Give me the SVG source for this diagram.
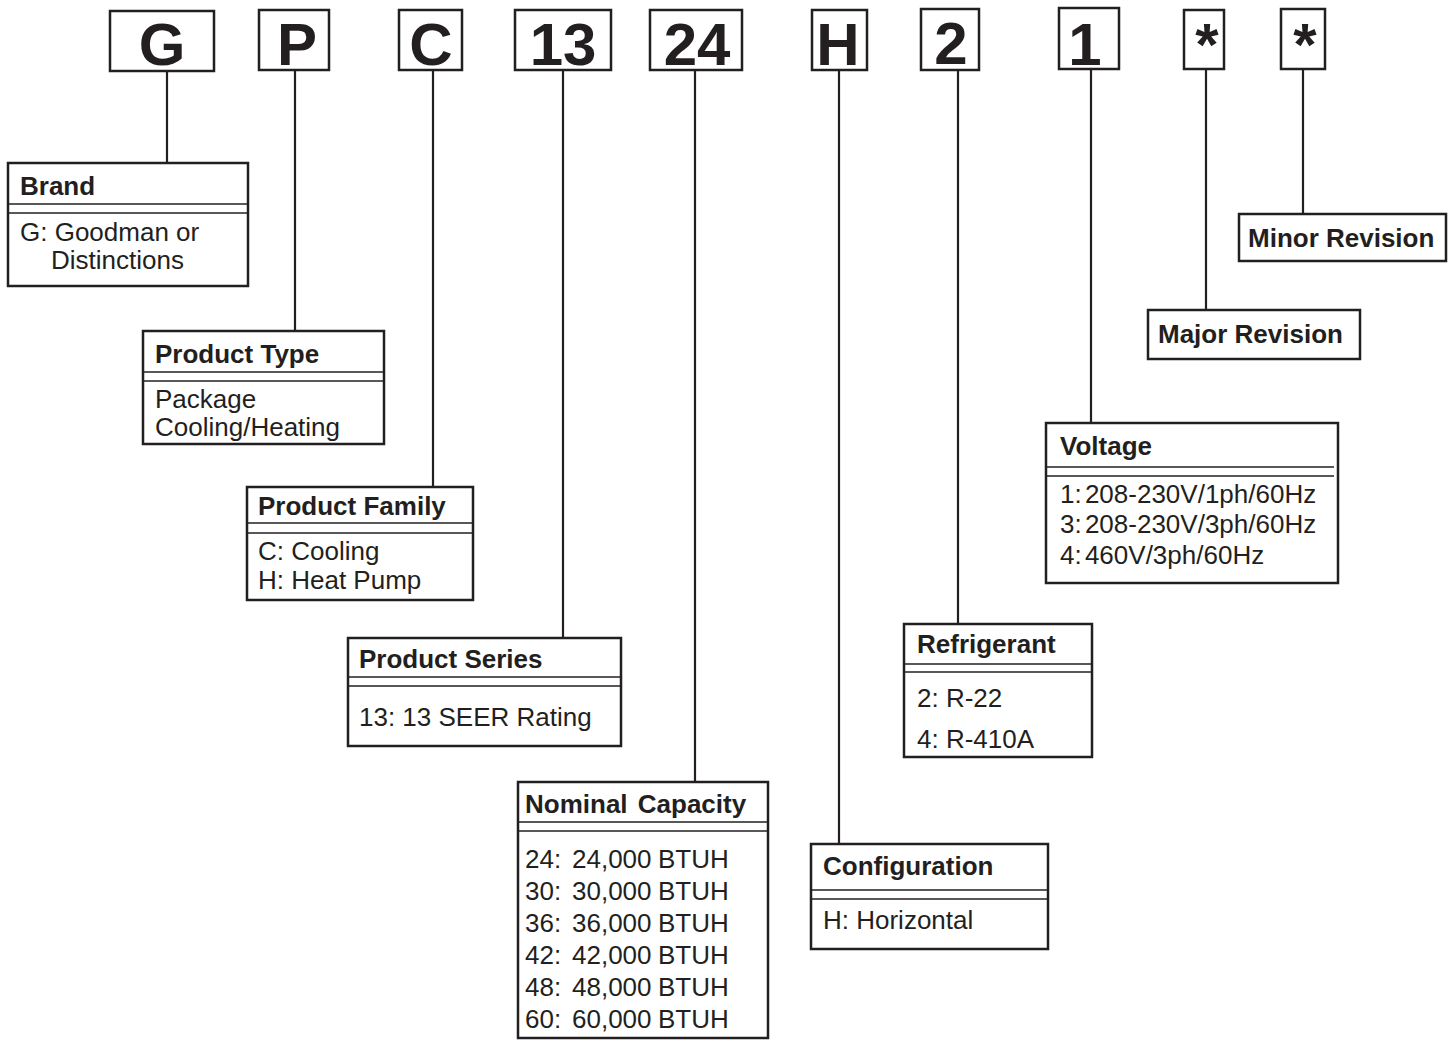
<svg xmlns="http://www.w3.org/2000/svg" width="1453" height="1041" viewBox="0 0 1453 1041">
<style>
.box{fill:#fff;stroke:#231f20;stroke-width:2.5}
.div{stroke:#231f20;stroke-width:1.6}
.con{stroke:#231f20;stroke-width:2.2;fill:none}
.big{font-family:"Liberation Sans",Arial,sans-serif;font-weight:bold;font-size:60px;fill:#231f20;text-anchor:middle}
.ttl{font-family:"Liberation Sans",Arial,sans-serif;font-weight:bold;font-size:26px;fill:#231f20}
.txt{font-family:"Liberation Sans",Arial,sans-serif;font-size:26px;fill:#231f20}
</style>
<rect width="1453" height="1041" fill="#fff"/>
<g id="connectors">
<line class="con" x1="167" y1="71" x2="167" y2="163"/>
<line class="con" x1="295" y1="70" x2="295" y2="331"/>
<line class="con" x1="433" y1="70" x2="433" y2="487"/>
<line class="con" x1="563" y1="70" x2="563" y2="638"/>
<line class="con" x1="695" y1="70" x2="695" y2="782"/>
<line class="con" x1="839" y1="70" x2="839" y2="844"/>
<line class="con" x1="958" y1="66" x2="958" y2="624"/>
<line class="con" x1="1091" y1="69" x2="1091" y2="423"/>
<line class="con" x1="1206" y1="69" x2="1206" y2="310"/>
<line class="con" x1="1303" y1="69" x2="1303" y2="214"/>
</g>
<g id="code-G"><rect class="box" x="110" y="11" width="104" height="60"/><text class="big" x="162" y="65">G</text></g>
<g id="code-P"><rect class="box" x="259" y="10" width="70" height="60"/><text class="big" x="297" y="65">P</text></g>
<g id="code-C"><rect class="box" x="399" y="10" width="63" height="60"/><text class="big" x="431" y="65">C</text></g>
<g id="code-13"><rect class="box" x="515" y="10" width="96" height="60"/><text class="big" x="563" y="65">13</text></g>
<g id="code-24"><rect class="box" x="650" y="10" width="92" height="60"/><text class="big" x="697" y="65">24</text></g>
<g id="code-H"><rect class="box" x="812" y="10" width="55" height="60"/><text class="big" x="838" y="65">H</text></g>
<g id="code-2"><rect class="box" x="921" y="9" width="58" height="61"/><text class="big" x="951" y="64">2</text></g>
<g id="code-1"><rect class="box" x="1059" y="8" width="60" height="61"/><text class="big" x="1085" y="65">1</text></g>
<g id="code-star1"><rect class="box" x="1184" y="10" width="40" height="59"/><text class="big" x="1207" y="65">*</text></g>
<g id="code-star2"><rect class="box" x="1281" y="9" width="44" height="60"/><text class="big" x="1305" y="65">*</text></g>

<g id="brand">
<rect class="box" x="8" y="163" width="240" height="123"/>
<line class="div" x1="8" y1="204" x2="248" y2="204"/><line class="div" x1="8" y1="213" x2="248" y2="213"/>
<text class="ttl" x="20" y="195">Brand</text>
<text class="txt" x="20" y="241">G: Goodman or</text>
<text class="txt" x="51" y="269">Distinctions</text>
</g>
<g id="product-type">
<rect class="box" x="143" y="331" width="241" height="113"/>
<line class="div" x1="143" y1="372" x2="384" y2="372"/><line class="div" x1="143" y1="381" x2="384" y2="381"/>
<text class="ttl" x="155" y="363">Product Type</text>
<text class="txt" x="155" y="408">Package</text>
<text class="txt" x="155" y="436">Cooling/Heating</text>
</g>
<g id="product-family">
<rect class="box" x="247" y="487" width="226" height="113"/>
<line class="div" x1="247" y1="523" x2="473" y2="523"/><line class="div" x1="247" y1="533" x2="473" y2="533"/>
<text class="ttl" x="258" y="515">Product Family</text>
<text class="txt" x="258" y="560">C: Cooling</text>
<text class="txt" x="258" y="589">H: Heat Pump</text>
</g>
<g id="product-series">
<rect class="box" x="348" y="638" width="273" height="108"/>
<line class="div" x1="348" y1="677" x2="621" y2="677"/><line class="div" x1="348" y1="686" x2="621" y2="686"/>
<text class="ttl" x="359" y="668">Product Series</text>
<text class="txt" x="359" y="726">13: 13 SEER Rating</text>
</g>
<g id="nominal-capacity">
<rect class="box" x="518" y="782" width="250" height="256"/>
<line class="div" x1="518" y1="822" x2="768" y2="822"/><line class="div" x1="518" y1="831" x2="768" y2="831"/>
<text class="ttl" x="525" y="813" word-spacing="3">Nominal Capacity</text>
<text class="txt" y="868"><tspan x="525">24:</tspan><tspan x="572">24,000</tspan><tspan x="658">BTUH</tspan></text>
<text class="txt" y="900"><tspan x="525">30:</tspan><tspan x="572">30,000</tspan><tspan x="658">BTUH</tspan></text>
<text class="txt" y="932"><tspan x="525">36:</tspan><tspan x="572">36,000</tspan><tspan x="658">BTUH</tspan></text>
<text class="txt" y="964"><tspan x="525">42:</tspan><tspan x="572">42,000</tspan><tspan x="658">BTUH</tspan></text>
<text class="txt" y="996"><tspan x="525">48:</tspan><tspan x="572">48,000</tspan><tspan x="658">BTUH</tspan></text>
<text class="txt" y="1028"><tspan x="525">60:</tspan><tspan x="572">60,000</tspan><tspan x="658">BTUH</tspan></text>
</g>
<g id="configuration">
<rect class="box" x="811" y="844" width="237" height="105"/>
<line class="div" x1="811" y1="890" x2="1048" y2="890"/><line class="div" x1="811" y1="899" x2="1048" y2="899"/>
<text class="ttl" x="823" y="875">Configuration</text>
<text class="txt" x="823" y="929">H: Horizontal</text>
</g>
<g id="refrigerant">
<rect class="box" x="904" y="624" width="188" height="133"/>
<line class="div" x1="904" y1="664" x2="1092" y2="664"/><line class="div" x1="904" y1="672" x2="1092" y2="672"/>
<text class="ttl" x="917" y="653">Refrigerant</text>
<text class="txt" x="917" y="707">2: R-22</text>
<text class="txt" x="917" y="748">4: R-410A</text>
</g>
<g id="voltage">
<rect class="box" x="1046" y="423" width="292" height="160"/>
<line class="div" x1="1046" y1="467" x2="1334" y2="467"/><line class="div" x1="1046" y1="476" x2="1334" y2="476"/>
<text class="ttl" x="1060" y="455">Voltage</text>
<text class="txt" x="1060" y="503" word-spacing="-4">1: 208-230V/1ph/60Hz</text>
<text class="txt" x="1060" y="533" word-spacing="-4">3: 208-230V/3ph/60Hz</text>
<text class="txt" x="1060" y="564" word-spacing="-4">4: 460V/3ph/60Hz</text>
</g>
<g id="major-revision">
<rect class="box" x="1148" y="310" width="212" height="49"/>
<text class="ttl" x="1158" y="343">Major Revision</text>
</g>
<g id="minor-revision">
<rect class="box" x="1239" y="214" width="207" height="47"/>
<text class="ttl" x="1248" y="247">Minor Revision</text>
</g>
</svg>
